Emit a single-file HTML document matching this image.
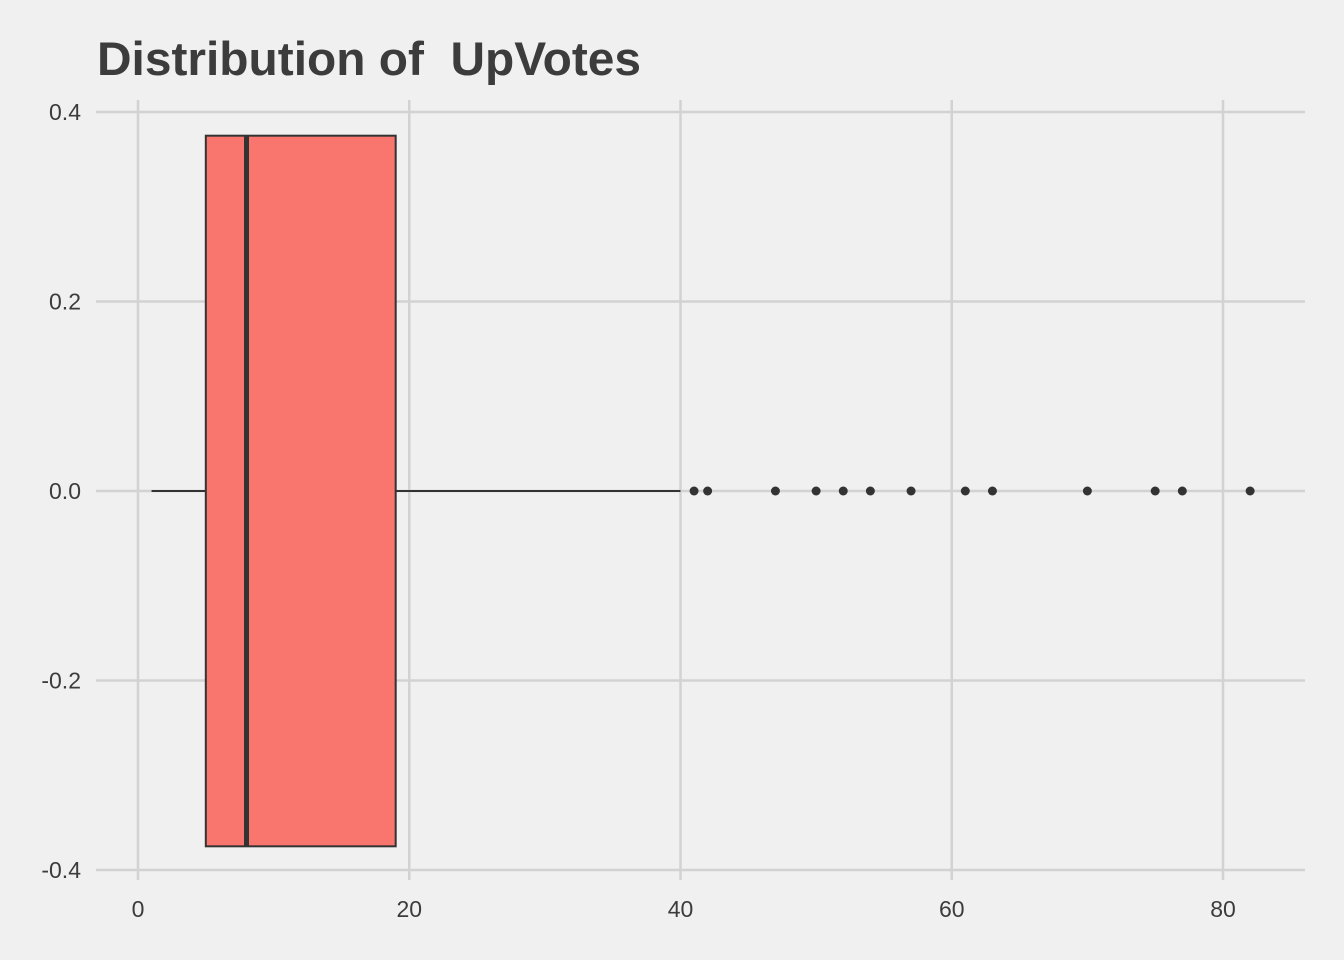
<!DOCTYPE html>
<html><head><meta charset="utf-8"><style>
html,body{margin:0;padding:0;background:#f0f0f0;}
svg{display:block;font-family:"Liberation Sans",Arial,sans-serif;}
</style></head><body>
<svg id="chart" width="1344" height="960">
<rect x="0" y="0" width="1344" height="960" fill="#f0f0f0"/>
<text x="97" y="75" font-size="47" font-weight="bold" fill="#3c3c3c" style="white-space:pre" textLength="544" lengthAdjust="spacingAndGlyphs">Distribution of  UpVotes</text>
<g id="grid"></g><g id="marks"></g><g id="labels"></g>
</svg>
<script>
const xTicks=[0,20,40,60,80];
const yTicks=[0.4,0.2,0.0,-0.2,-0.4];
const yTickLabels=["0.4","0.2","0.0","-0.2","-0.4"];
const whiskerLow=[1];
const quartiles=[5,8,19];
const whiskerHigh=[40];
const outliers=[41,42,47,50,52,54,57,61,63,70,75,77,82];
const boxHalfWidth=[0.375];
const NS="http://www.w3.org/2000/svg";
const X=v=>138+v*(1223-138)/80;
const Y=v=>491-v*(491-112)/0.4;
function mk(tag,attrs,parent){const e=document.createElementNS(NS,tag);for(const k in attrs)e.setAttribute(k,attrs[k]);document.getElementById(parent).appendChild(e);return e;}
xTicks.forEach(t=>{
 const l=mk('line',{x1:X(t),x2:X(t),y1:100,y2:880,stroke:'#d2d2d2','stroke-width':2.5},'grid');
 
 
 const tx=mk('text',{x:X(t),y:917,'font-size':23,fill:'#3c3c3c','text-anchor':'middle'},'labels');
 tx.textContent=t;
 
 
});
yTicks.forEach((t,i)=>{
 const l=mk('line',{x1:96,x2:1305,y1:Y(t),y2:Y(t),stroke:'#d2d2d2','stroke-width':2.5},'grid');
 
 
 const tx=mk('text',{x:81,y:Y(t)+8,'font-size':23,fill:'#3c3c3c','text-anchor':'end'},'labels');
 tx.textContent=yTickLabels[i];
 
 
});
let w=mk('line',{x1:X(whiskerLow[0]),x2:X(quartiles[0]),y1:Y(0),y2:Y(0),stroke:'#333','stroke-width':2},'marks');


w=mk('line',{x1:X(quartiles[2]),x2:X(whiskerHigh[0]),y1:Y(0),y2:Y(0),stroke:'#333','stroke-width':2},'marks');


const b=mk('rect',{x:X(quartiles[0]),y:Y(boxHalfWidth[0]),width:X(quartiles[2])-X(quartiles[0]),height:Y(-boxHalfWidth[0])-Y(boxHalfWidth[0]),fill:'#f8766d',stroke:'#333','stroke-width':2},'marks');


const m=mk('line',{x1:X(quartiles[1]),x2:X(quartiles[1]),y1:Y(boxHalfWidth[0]),y2:Y(-boxHalfWidth[0]),stroke:'#333','stroke-width':5},'marks');


outliers.forEach(o=>{
 const c=mk('circle',{cx:X(o),cy:Y(0),r:4.5,fill:'#333'},'marks');
 
 
});
</script>
</body></html>
